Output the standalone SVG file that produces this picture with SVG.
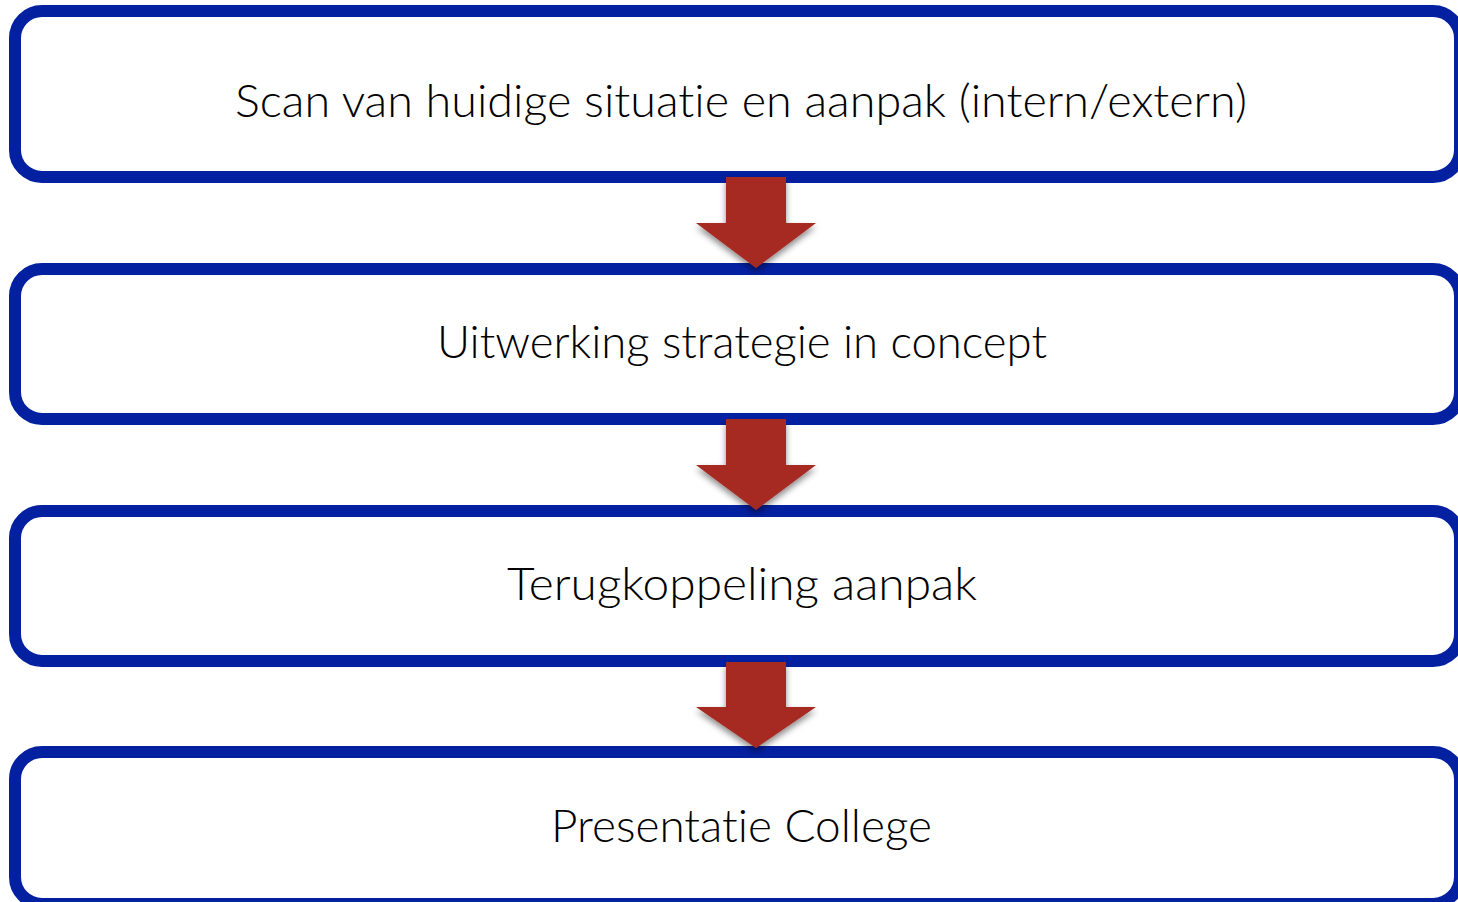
<svg xmlns="http://www.w3.org/2000/svg" width="1458" height="902" viewBox="0 0 1458 902">
<style>
.box{fill:#ffffff;stroke:#0320a0;stroke-width:12}
.lbl{font-family:Lato,"Open Sans","Liberation Sans",sans-serif;font-weight:300;font-size:46px;fill:#000000;text-anchor:middle;font-variant-ligatures:none;font-feature-settings:"liga" 0,"clig" 0}
.arr{fill:#a62924;filter:url(#sh)}
</style>
<defs>
<filter id="sh" x="-30%" y="-30%" width="160%" height="170%">
<feDropShadow dx="0" dy="4" stdDeviation="3" flood-color="#000000" flood-opacity="0.45"/>
</filter>
</defs>
<g id="node1"><rect class="box" x="15" y="11" width="1445" height="166" rx="27"/><text class="lbl" x="741" y="117" textLength="1012" lengthAdjust="spacingAndGlyphs">Scan van huidige situatie en aanpak (intern/extern)</text></g>
<g id="node2"><rect class="box" x="15" y="269" width="1445" height="150" rx="27"/><text class="lbl" x="742" y="358" textLength="610" lengthAdjust="spacingAndGlyphs">Uitwerking strategie in concept</text></g>
<g id="node3"><rect class="box" x="15" y="511" width="1445" height="150" rx="27"/><text class="lbl" x="742" y="600" textLength="470" lengthAdjust="spacingAndGlyphs">Terugkoppeling aanpak</text></g>
<g id="node4"><rect class="box" x="15" y="752" width="1445" height="152" rx="27"/><text class="lbl" x="741.5" y="842" textLength="381" lengthAdjust="spacingAndGlyphs">Presentatie College</text></g>
<g id="connectors">
<polygon class="arr" points="726,177 786,177 786,223 816,223 756,268 696,223 726,223"/>
<polygon class="arr" points="726,419 786,419 786,465 816,465 756,510 696,465 726,465"/>
<polygon class="arr" points="726,662 786,662 786,707 816,707 756,748 696,707 726,707"/>
</g>
</svg>
